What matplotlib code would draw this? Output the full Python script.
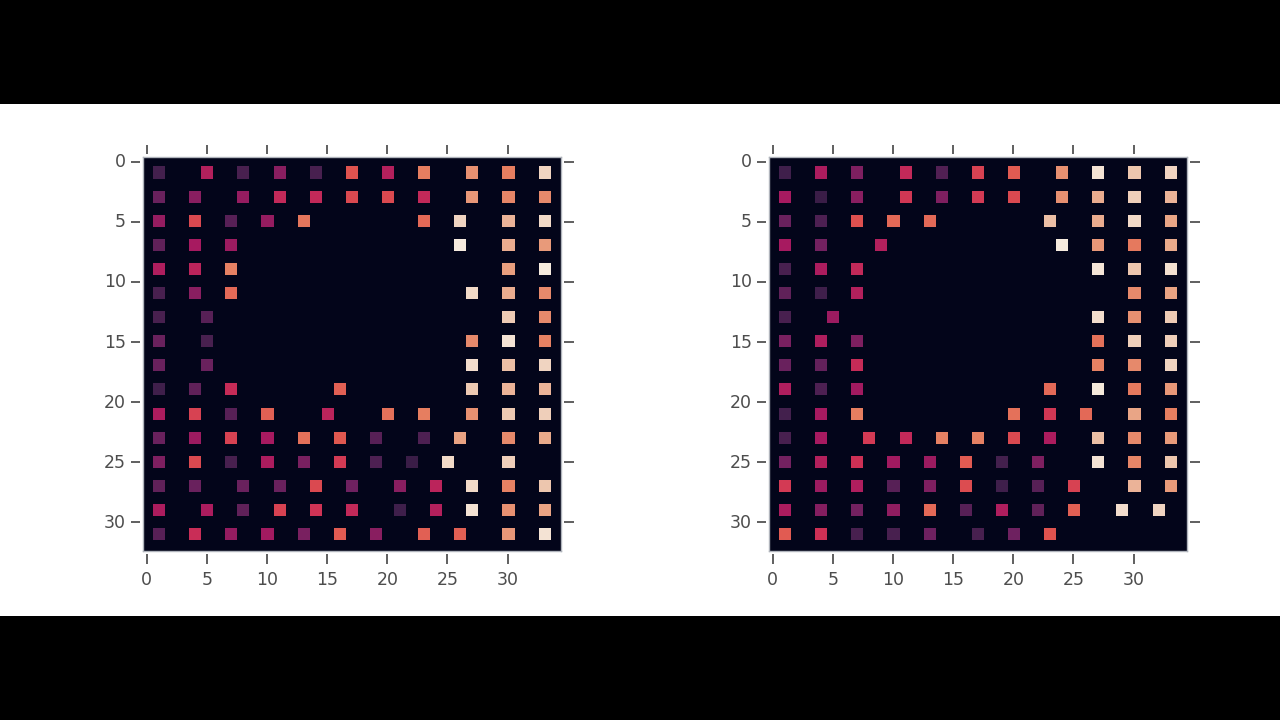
import numpy as np
import matplotlib
matplotlib.use("Agg")
import matplotlib.pyplot as plt
from matplotlib.colors import LinearSegmentedColormap
from matplotlib.path import Path
from matplotlib.transforms import ScaledTranslation

rows = [1, 3, 5, 7, 9, 11, 13, 15, 17, 19, 21, 23, 25, 27, 29, 31]

# left heatmap: one {column: value} dict per row
left_cells = [
    {1: .16, 5: .38, 8: .17, 11: .30, 14: .17, 17: .55, 20: .38, 23: .65, 27: .70, 30: .65, 33: .90},
    {1: .24, 4: .30, 8: .32, 11: .42, 14: .42, 17: .52, 20: .52, 23: .42, 27: .72, 30: .67, 33: .68},
    {1: .32, 4: .52, 7: .20, 10: .32, 13: .63, 23: .60, 26: .90, 30: .80, 33: .92},
    {1: .22, 4: .35, 7: .33, 26: .98, 30: .78, 33: .73},
    {1: .37, 4: .40, 7: .66, 30: .74, 33: .98},
    {1: .17, 4: .30, 7: .60, 27: .92, 30: .78, 33: .68},
    {1: .17, 5: .20, 30: .87, 33: .68},
    {1: .24, 5: .17, 27: .68, 30: .95, 33: .66},
    {1: .24, 5: .24, 27: .93, 30: .83, 33: .90},
    {1: .15, 4: .22, 7: .43, 16: .58, 27: .86, 30: .80, 33: .80},
    {1: .36, 4: .50, 7: .20, 10: .58, 15: .40, 20: .62, 23: .65, 27: .70, 30: .86, 33: .88},
    {1: .24, 4: .33, 7: .50, 10: .35, 13: .62, 16: .56, 19: .20, 23: .18, 26: .75, 30: .68, 33: .77},
    {1: .28, 4: .52, 7: .17, 10: .36, 13: .27, 16: .48, 19: .18, 22: .14, 25: .92, 30: .88},
    {1: .22, 4: .24, 8: .24, 11: .24, 14: .52, 17: .25, 21: .30, 24: .40, 27: .92, 30: .66, 33: .85},
    {1: .36, 5: .36, 8: .22, 11: .50, 14: .46, 17: .42, 21: .15, 24: .38, 27: .95, 30: .70, 33: .75},
    {1: .20, 4: .44, 7: .32, 10: .34, 13: .27, 16: .57, 19: .30, 23: .58, 26: .58, 30: .72, 33: .95},
]

# right heatmap
right_cells = [
    {1: .15, 4: .36, 7: .28, 11: .42, 14: .19, 17: .50, 20: .57, 24: .70, 27: .95, 30: .85, 33: .90},
    {1: .35, 4: .14, 7: .30, 11: .47, 14: .28, 17: .48, 20: .52, 24: .70, 27: .78, 30: .88, 33: .80},
    {1: .24, 4: .18, 7: .54, 10: .60, 13: .60, 23: .83, 27: .78, 30: .92, 33: .76},
    {1: .35, 4: .26, 9: .38, 24: .98, 27: .72, 30: .64, 33: .77},
    {1: .17, 4: .36, 7: .42, 27: .96, 30: .85, 33: .94},
    {1: .22, 4: .15, 7: .38, 30: .68, 33: .75},
    {1: .17, 5: .33, 27: .93, 30: .70, 33: .87},
    {1: .27, 4: .37, 7: .28, 27: .62, 30: .88, 33: .88},
    {1: .24, 4: .23, 7: .43, 27: .66, 30: .68, 33: .90},
    {1: .37, 4: .18, 7: .34, 23: .60, 27: .97, 30: .64, 33: .72},
    {1: .16, 4: .35, 7: .65, 20: .62, 23: .47, 26: .60, 30: .76, 33: .65},
    {1: .17, 4: .35, 8: .48, 11: .42, 14: .66, 17: .66, 20: .52, 23: .36, 27: .83, 30: .68, 33: .73},
    {1: .26, 4: .38, 7: .45, 10: .34, 13: .33, 16: .57, 19: .16, 22: .28, 27: .95, 30: .67, 33: .85},
    {1: .48, 4: .33, 7: .37, 10: .20, 13: .28, 16: .53, 19: .15, 22: .20, 25: .50, 30: .80, 33: .73},
    {1: .36, 4: .29, 7: .26, 10: .31, 13: .60, 16: .20, 19: .37, 22: .22, 25: .58, 29: .93, 32: .90},
    {1: .57, 4: .45, 7: .17, 10: .17, 13: .25, 17: .17, 20: .25, 23: .55},
]

x_ticks = [0, 5, 10, 15, 20, 25, 30]
y_ticks = [0, 5, 10, 15, 20, 25, 30]

# washed out rocket
cmap = LinearSegmentedColormap.from_list("faded_rocket", [
    (0.00, "#03051A"), (0.15, "#40204C"), (0.25, "#6E2260"), (0.35, "#A81A60"),
    (0.45, "#CE3056"), (0.55, "#E0544F"), (0.65, "#E67E60"), (0.75, "#E9A282"),
    (0.85, "#EDC6AE"), (1.00, "#F8F1E6"),
])


def to_grid(cells):
    grid = np.zeros((34, 35))
    for r, row in zip(rows, cells):
        for c, v in row.items():
            grid[r, c] = v
    return grid


W, H = 1280, 720
fig = plt.figure(figsize=(W / 100, H / 100), dpi=100, facecolor="black")
fig.patches.append(plt.Rectangle((0, (720 - 616) / H), 1, 512 / H, transform=fig.transFigure,
                                 facecolor="white", edgecolor="none", zorder=-1))

# tick marks stand a little off the frame
tick_x = Path([(-1, 0), (-0.24, 0)])
tick_x2 = Path([(1, 0), (0.24, 0)])
tick_y = Path([(0, -1), (0, -0.24)])
tick_y2 = Path([(0, 1), (0, 0.24)])


def draw(cells, left_px):
    ax = fig.add_axes([left_px / W, (H - 551.3) / H, 418.5 / W, 394 / H])
    ax.imshow(to_grid(cells), cmap=cmap, vmin=0, vmax=1, interpolation="nearest", aspect="auto")
    ax.set_xlim(-0.33, 34.44)
    ax.set_ylim(32.4, -0.37)
    ax.set_xticks(x_ticks)
    ax.set_yticks(y_ticks)
    ax.tick_params(direction="out", length=9, width=1.2, color="#444444", labelcolor="#4d4d4d",
                   labelsize=12.5, top=True, right=True)
    ax.tick_params(axis="x", pad=5)
    ax.tick_params(axis="y", pad=3.2)
    for t in ax.xaxis.get_major_ticks():
        t.tick1line.set_marker(tick_y)
        t.tick2line.set_marker(tick_y2)
        t.tick1line.set_markersize(18)
        t.tick2line.set_markersize(18)
    for t in ax.yaxis.get_major_ticks():
        t.tick1line.set_marker(tick_x)
        t.tick2line.set_marker(tick_x2)
        t.tick1line.set_markersize(18)
        t.tick2line.set_markersize(18)
        t.label1.set_transform(t.label1.get_transform() + ScaledTranslation(0, 1.5 / 100, fig.dpi_scale_trans))
    for s in ax.spines.values():
        s.set_color("#b0b4bc")
        s.set_linewidth(1)


draw(left_cells, 142.6)
draw(right_cells, 768.6)

fig.savefig("out.png", dpi=100, facecolor=fig.get_facecolor())
